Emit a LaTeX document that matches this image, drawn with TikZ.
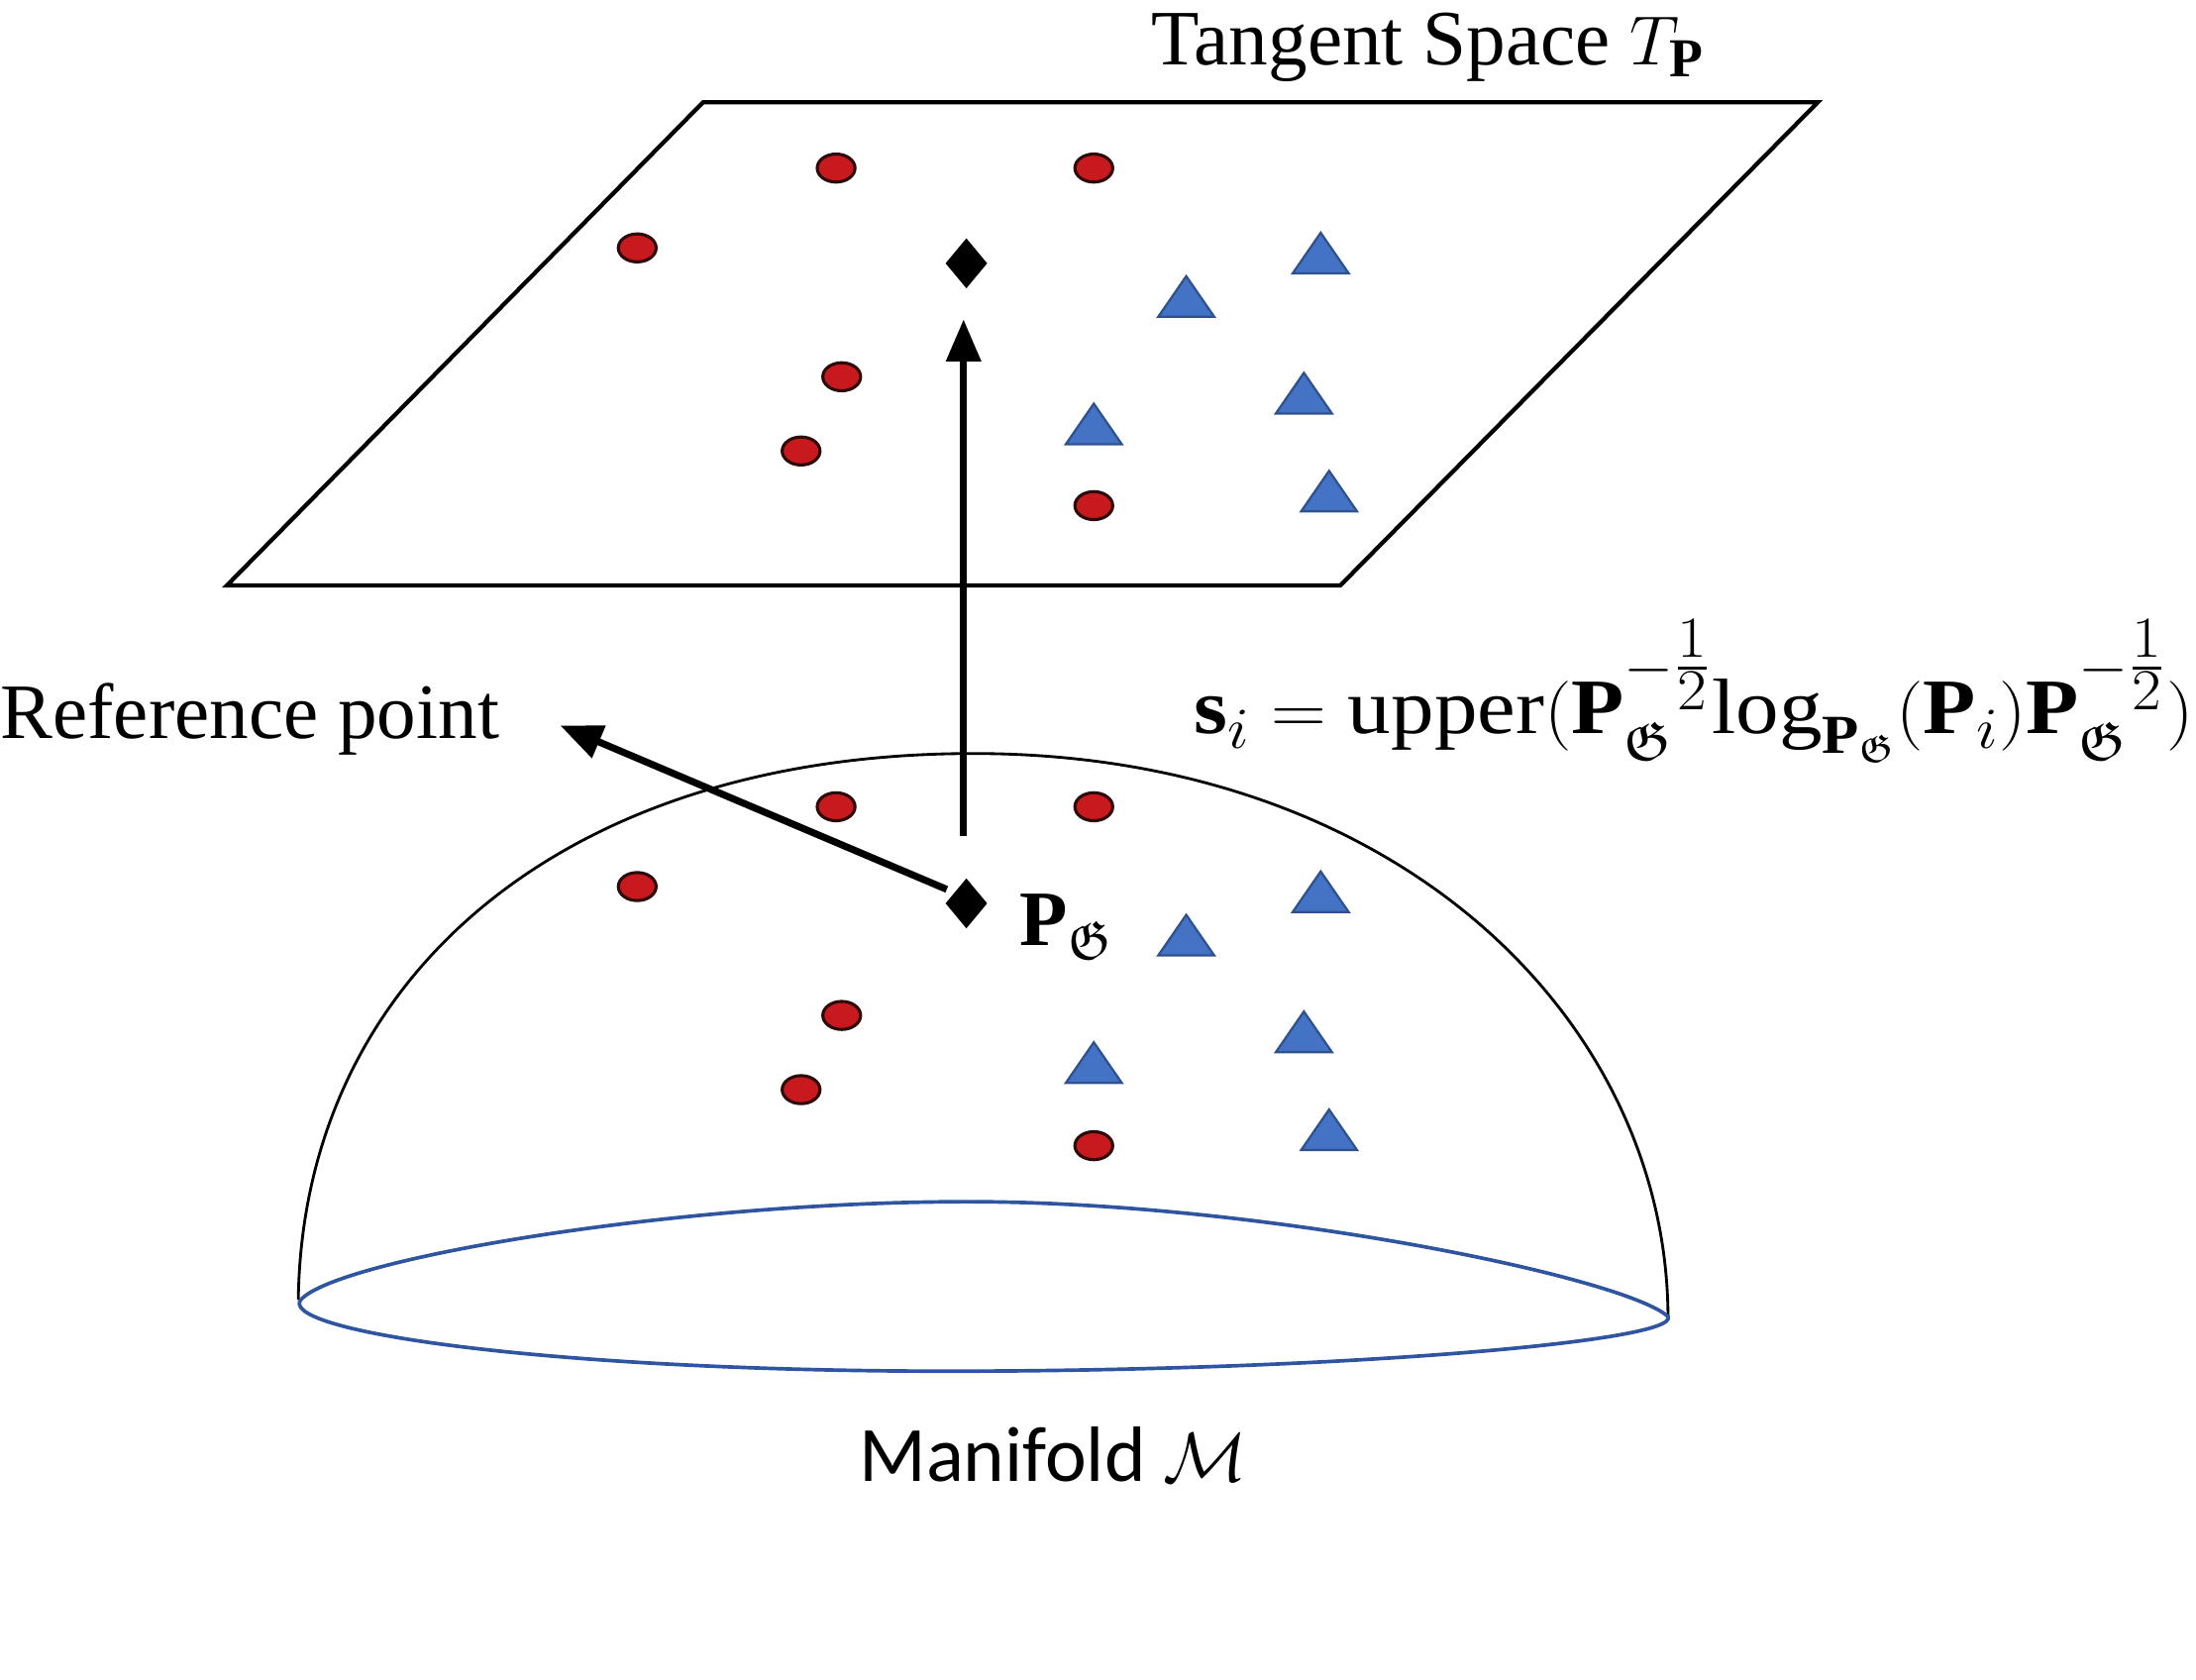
\documentclass[tikz,border=0pt]{standalone}
\usepackage{amsmath,amssymb,graphicx}
\usepackage{fontspec}
\setmainfont{Liberation Serif}
\newfontfamily\calib{Carlito}
\usetikzlibrary{shapes.geometric,arrows.meta}
\definecolor{dotred}{RGB}{200,25,30}
\definecolor{dotedge}{RGB}{45,10,10}
\definecolor{triblue}{RGB}{68,114,196}
\definecolor{triedge}{RGB}{47,82,143}
\definecolor{baseblue}{RGB}{47,85,160}
\tikzset{
  reddot/.style={ellipse, fill=dotred, draw=dotedge, line width=1.1pt, minimum width=13.5pt, minimum height=10pt, inner sep=0pt},
  bluetri/.style={isosceles triangle, shape border rotate=90, isosceles triangle stretches, fill=triblue, draw=triedge, line width=0.8pt, inner sep=0pt, minimum width=20pt, minimum height=14.5pt, anchor=south},
  refdiam/.style={diamond, fill=black, inner sep=0pt, minimum width=15pt, minimum height=18pt},
  bigarrow/.style={line width=2.5pt, -{Triangle[length=15pt,width=12pt]}},
  lbl/.style={inner sep=0pt, font=\fontsize{28}{32}\selectfont},
}
\begin{document}
\begin{tikzpicture}[x=0.5pt,y=-0.5pt]
\useasboundingbox (0,0) rectangle (1568,1199.5);
% tangent plane
\coordinate (pa) at (502,73);
\coordinate (pb) at (1298,73);
\coordinate (pc) at (957,418);
\coordinate (pd) at (162,418);
\draw[line width=1.5pt] (pa) -- (pb) -- (pc) -- (pd) -- cycle;
\node[lbl, anchor=base west] (tlabel) at (822,46) {Tangent Space $T_{\textbf{P}}$};
% plane points
\node[reddot] (tp1) at (597,120) {};
\node[reddot] (tp2) at (781,120) {};
\node[reddot] (tp3) at (455,177) {};
\node[reddot] (tp4) at (601,269) {};
\node[reddot] (tp5) at (572,322) {};
\node[reddot] (tp6) at (781,361) {};
\node[refdiam] (td) at (690,188) {};
\node[bluetri] (tt1) at (847,227) {};
\node[bluetri] (tt2) at (943,196) {};
\node[bluetri] (tt3) at (931,296) {};
\node[bluetri] (tt4) at (781,318) {};
\node[bluetri] (tt5) at (949,366) {};
% manifold dome
\coordinate (dl) at (213,928);
\coordinate (dt) at (695,538);
\coordinate (dr) at (1191,940);
\draw[line width=1pt] (dl) .. controls (216,700) and (400,538) .. (dt) .. controls (1000,538) and (1190,730) .. (dr);
\coordinate (bl) at (214,929);
\coordinate (btop) at (691,858);
\coordinate (bbot) at (677,979);
\draw[baseblue, line width=1.3pt] (bl) .. controls (235,900) and (480,858) .. (btop) .. controls (900,858) and (1160,912) .. (dr) .. controls (1200,958) and (950,979) .. (bbot) .. controls (400,979) and (205,952) .. (bl) -- cycle;
% manifold points
\node[reddot] (mp1) at (597,576) {};
\node[reddot] (mp2) at (781,576) {};
\node[reddot] (mp3) at (455,633) {};
\node[reddot] (mp4) at (601,725) {};
\node[reddot] (mp5) at (572,778) {};
\node[reddot] (mp6) at (781,818) {};
\node[refdiam] (md) at (690,645) {};
\node[bluetri] (mt1) at (847,683) {};
\node[bluetri] (mt2) at (943,652) {};
\node[bluetri] (mt3) at (931,752) {};
\node[bluetri] (mt4) at (781,774) {};
\node[bluetri] (mt5) at (949,822) {};
\node[lbl, anchor=west] (plabel) at (728,662) {$\textbf{P}_{\mathfrak{G}}$};
% arrows
\coordinate (vstart) at (688,597);
\coordinate (vend) at (688,228);
\draw[bigarrow] (vstart) -- (vend);
\coordinate (rstart) at (676,635);
\coordinate (rend) at (400,518);
\node[lbl, anchor=base west] (rlabel) at (0,527) {Reference point};
\draw[bigarrow] (rstart) -- (rend);
% formula
\node[lbl, anchor=base west] (formula) at (852,524) {\scalebox{1.1}[1]{$\textbf{s}_i = \text{upper}(\textbf{P}_{\mathfrak{G}}^{-\genfrac{}{}{}{1}{1}{2}}\text{log}_{\textbf{P}_{\mathfrak{G}}}(\textbf{P}_i)\textbf{P}_{\mathfrak{G}}^{-\genfrac{}{}{}{1}{1}{2}})$}};
% manifold label
\node[lbl, anchor=base] (mlabel) at (752,1058) {\calib Manifold $\mathcal{M}$};
\end{tikzpicture}
\end{document}
